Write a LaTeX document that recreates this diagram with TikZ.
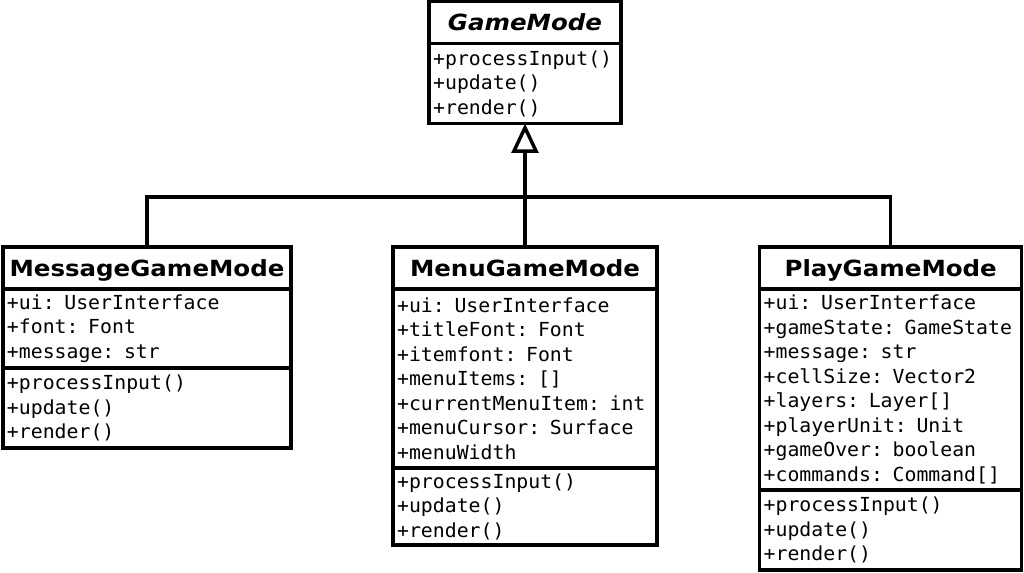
\documentclass[tikz,border=0pt]{standalone}
\usepackage{fontspec}
\usetikzlibrary{arrows.meta}
\newfontfamily\umlsans[FakeStretch=1.1]{DejaVu Sans}
\newfontfamily\umlmono[FakeStretch=1.025]{DejaVu Sans Mono}
\tikzset{
  classtitle/.style={draw, line width=2.6pt, outer sep=0pt, inner xsep=2.5pt,
    align=center, minimum height=31.5pt, text height=12.2pt, text depth=0pt,
    font=\umlsans\bfseries\fontsize{16.7pt}{19pt}\selectfont},
  classbody/.style={draw, line width=2.6pt, outer sep=0pt, inner xsep=3pt,
    align=left, anchor=north, font=\umlmono\fontsize{14.5pt}{18.4pt}\selectfont},
  inherit/.style={line width=2.6pt},
}
\begin{document}
\begin{tikzpicture}[x=0.75pt,y=-0.75pt]
  \useasboundingbox (0,0) rectangle (1024,573);
  % abstract base class
  \node[classtitle, anchor=north, text width=138.7pt,
        font=\umlsans\bfseries\itshape\fontsize{16.7pt}{19pt}\selectfont] (gmT) at (525,1.5) {GameMode};
  \node[classbody, text width=137.7pt, minimum height=60pt] (gmB) at (gmT.south)
    {+processInput()\\+update()\\+render()};
  % subclasses
  \node[classtitle, anchor=north, text width=211pt] (msgT) at (147,247) {MessageGameMode};
  \node[classbody, text width=210pt, minimum height=59.25pt] (msgA) at (msgT.south)
    {+ui: UserInterface\\+font: Font\\+message: str};
  \node[classbody, text width=210pt, minimum height=60pt] (msgB) at (msgA.south)
    {+processInput()\\+update()\\+render()};
  \node[classtitle, anchor=north, text width=192.8pt] (menuT) at (525,247) {MenuGameMode};
  \node[classbody, text width=191.8pt, minimum height=134.25pt] (menuA) at (menuT.south)
    {+ui: UserInterface\\+titleFont: Font\\+itemfont: Font\\+menuItems: []\\
     +currentMenuItem: int\\+menuCursor: Surface\\+menuWidth};
  \node[classbody, text width=191.8pt, minimum height=57.75pt] (menuB) at (menuA.south)
    {+processInput()\\+update()\\+render()};
  \node[classtitle, anchor=north, text width=191.5pt] (playT) at (890.7,247) {PlayGameMode};
  \node[classbody, text width=190.5pt, minimum height=150.75pt] (playA) at (playT.south)
    {+ui: UserInterface\\+gameState: GameState\\+message: str\\+cellSize: Vector2\\
     +layers: Layer[]\\+playerUnit: Unit\\+gameOver: boolean\\+commands: Command[]};
  \node[classbody, text width=190.5pt, minimum height=60pt] (playB) at (playA.south)
    {+processInput()\\+update()\\+render()};
  % generalisation
  \coordinate (hub) at (525,197);
  \draw[inherit] (msgT.north) |- (hub) -| (playT.north);
  \draw[inherit, -{Triangle[open, length=22pt, width=20pt]}] (menuT.north) -- (gmB.south);
\end{tikzpicture}
\end{document}
